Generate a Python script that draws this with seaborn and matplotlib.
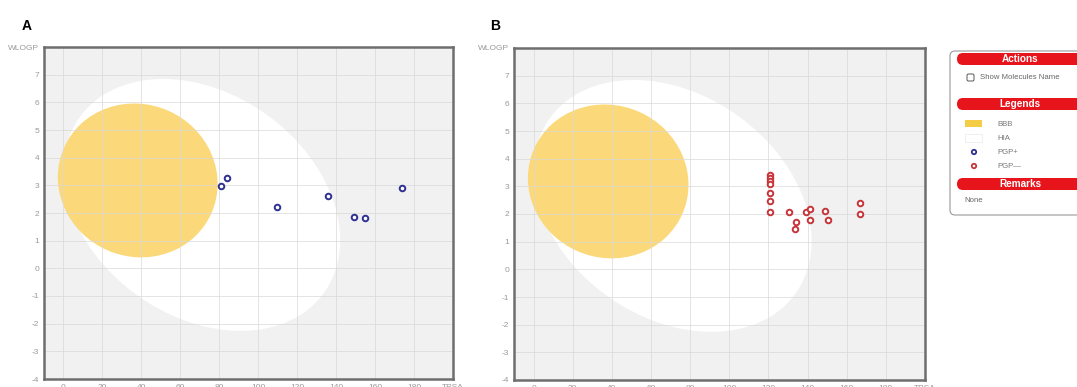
import matplotlib
matplotlib.use("Agg")
import matplotlib.pyplot as plt
import seaborn as sns
import pandas as pd
from matplotlib.patches import Ellipse, FancyBboxPatch, Rectangle

# ---------------- data ----------------
tpsa_pgp_plus = [81, 84, 109.5, 136, 149, 155, 174]
wlogp_pgp_plus = [2.98, 3.25, 2.20, 2.60, 1.87, 1.82, 2.90]

tpsa_pgp_minus = [121, 121, 121, 121, 121, 121, 121, 130.3, 139.3, 141.4, 141.2,
                  134.2, 133.8, 148.7, 150.4, 166.8, 166.8]
wlogp_pgp_minus = [3.41, 3.30, 3.19, 3.08, 2.75, 2.48, 2.08, 2.09, 2.09, 2.17, 1.78,
                   1.70, 1.47, 2.11, 1.79, 2.38, 2.00]

x_ticks = [0, 20, 40, 60, 80, 100, 120, 140, 160, 180, 200]
x_tick_labels = ["0", "20", "40", "60", "80", "100", "120", "140", "160", "180", "TPSA"]
y_ticks = [-4, -3, -2, -1, 0, 1, 2, 3, 4, 5, 6, 7, 8]
y_tick_labels = ["-4", "-3", "-2", "-1", "0", "1", "2", "3", "4", "5", "6", "7", "WLOGP"]

# BOILED-Egg regions (centre, width, height, angle)
hia_center = (71.051, 2.292)
hia_size = (142.081, 8.740)
hia_angle = -1.031325
bbb_center = (38.117, 3.177)
bbb_size = (82.061, 5.557)
bbb_angle = -0.171887

panel_labels = ["A", "B"]
legend_labels = ["BBB", "HIA", "PGP+", "PGP\u2014"]
section_titles = ["Actions", "Legends", "Remarks"]

# ---------------- style ----------------
sns.set_theme(style="white")
plt.rcParams["font.family"] = ["Liberation Sans", "DejaVu Sans"]

BG = "#f1f1f1"
YOLK = "#fbd97a"
BLUE = "#2e3192"
RED = "#c7353a"
TICK_C = "#9a9a9a"

fig = plt.figure(figsize=(10.77, 3.87), dpi=100)
W, H = 1077, 387


def px_axes(left, top, right, bottom):
    return fig.add_axes([left / W, 1 - bottom / H, (right - left) / W, (bottom - top) / H])


def style_axes(ax):
    ax.set_facecolor(BG)
    ax.set_xlim(-10, 200)
    ax.set_ylim(-4, 8)
    ax.add_patch(Ellipse(hia_center, hia_size[0], hia_size[1], angle=hia_angle,
                         facecolor="white", edgecolor="none", zorder=0.2))
    ax.add_patch(Ellipse(bbb_center, bbb_size[0], bbb_size[1], angle=bbb_angle,
                         facecolor=YOLK, edgecolor="none", zorder=0.3))
    ax.set_axisbelow(True)
    ax.set_xticks(x_ticks)
    ax.set_xticklabels(x_tick_labels)
    ax.set_yticks(y_ticks)
    ax.set_yticklabels(y_tick_labels)
    ax.grid(True, color="#d8d8d8", linewidth=0.7, alpha=0.7)
    ax.tick_params(axis="both", labelsize=6, colors=TICK_C, length=2, width=0.6, pad=1.5)
    for s in ax.spines.values():
        s.set_color("#6e6e6e")
        s.set_linewidth(1.8)


axA = px_axes(44, 47, 453, 379)
axB = px_axes(514, 48, 925, 380)

for ax, xs, ys, col in [(axA, tpsa_pgp_plus, wlogp_pgp_plus, BLUE),
                        (axB, tpsa_pgp_minus, wlogp_pgp_minus, RED)]:
    style_axes(ax)
    df = pd.DataFrame({"TPSA": xs, "WLOGP": ys})
    sns.scatterplot(data=df, x="TPSA", y="WLOGP", ax=ax, marker="o", s=16,
                    facecolor="white", edgecolor=col, linewidth=1.4, zorder=3)
    ax.set_xlabel("")
    ax.set_ylabel("")
    ax.set_xlim(-10, 200)
    ax.set_ylim(-4, 8)

# ---------------- overlay (panel letters + side box) ----------------
ov = fig.add_axes([0, 0, 1, 1], zorder=10)
ov.set_xlim(0, W)
ov.set_ylim(H, 0)
ov.axis("off")
ov.patch.set_alpha(0)

ov.text(22, 26, panel_labels[0], fontsize=10, fontweight="bold", color="black", va="center", ha="left")
ov.text(490, 26, panel_labels[1], fontsize=10, fontweight="bold", color="black", va="center", ha="left")

# side box
ov.add_patch(FancyBboxPatch((950, 51), 160, 164, boxstyle="round,pad=0,rounding_size=5",
                            facecolor="white", edgecolor="#9a9a9a", linewidth=0.8))
pill_rows = [59, 104, 184]
for y, t in zip(pill_rows, section_titles):
    ov.add_patch(FancyBboxPatch((957, y - 6), 150, 12, boxstyle="round,pad=0,rounding_size=6",
                                facecolor="#e8141c", edgecolor="none"))
    ov.text(1020, y, t, fontsize=7.2, fontweight="bold", color="white", ha="center", va="center")

ov.add_patch(FancyBboxPatch((967, 74), 7, 7, boxstyle="round,pad=0,rounding_size=1.5",
                            facecolor="white", edgecolor="#555555", linewidth=0.7))
ov.text(980, 77.5, "Show Molecules Name", fontsize=5.6, color="#666666", va="center", ha="left")

ov.add_patch(Rectangle((965, 120), 17, 7, facecolor="#f5cd45", edgecolor="none"))
ov.add_patch(Rectangle((965, 134), 17, 8, facecolor="white", edgecolor="#ececec", linewidth=0.6))
ov.scatter([974, 974], [152, 166], s=10, facecolor="white", edgecolors=[BLUE, RED], linewidths=1.3)
for y, t in zip([124, 138, 152, 166], legend_labels):
    ov.text(997, y, t, fontsize=5.6, color="#777777", va="center", ha="left")
ov.text(964, 200, "None", fontsize=5.6, color="#666666", va="center", ha="left")

fig.savefig("out.png", dpi=100)
